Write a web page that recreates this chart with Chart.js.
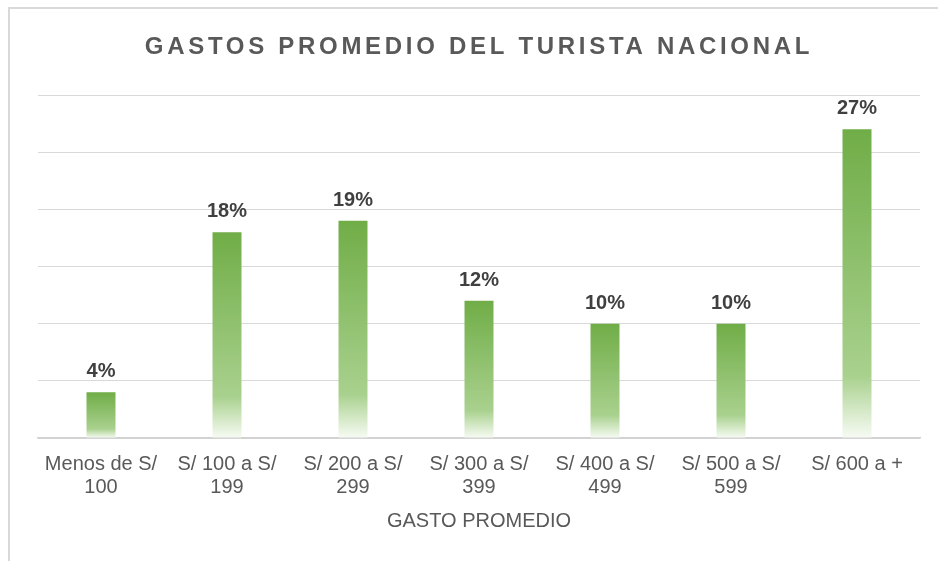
<!DOCTYPE html>
<html lang="es">
<head>
    <meta charset="UTF-8">
    <title>Gastos promedio del turista nacional</title>
    <script src="https://cdn.jsdelivr.net/npm/chart.js"></script>
    <style>
        body {
            margin: 0;
            padding: 0;
            background-color: #ffffff;
        }
        .chart-container {
            position: relative;
            width: 938px;
            height: 561px;
        }
    </style>
</head>
<body>
    <div class="chart-container">
        <canvas id="gastosChart"></canvas>
    </div>
<script>
    // Dati del grafico
    const titulo = "GASTOS PROMEDIO DEL TURISTA NACIONAL";
    const categorias = [
        ["Menos de S/", "100"],
        ["S/ 100 a S/", "199"],
        ["S/ 200 a S/", "299"],
        ["S/ 300 a S/", "399"],
        ["S/ 400 a S/", "499"],
        ["S/ 500 a S/", "599"],
        "S/ 600 a +"
    ];
    const porcentajes = [4, 18, 19, 12, 10, 10, 27];
    const tituloEjeX = "GASTO PROMEDIO";

    // Sfumatura verde -> bianco per ogni barra
    function gradienteBarra(context) {
        const chart = context.chart;
        if (!chart.chartArea) return "#70AD47";
        const y = chart.scales.y;
        const v = context.raw;
        const top = y.getPixelForValue(v);
        const bottom = y.getPixelForValue(0);
        if (!isFinite(top) || bottom - top < 1) return "#70AD47";
        const g = chart.ctx.createLinearGradient(0, top, 0, bottom);
        g.addColorStop(0, "#70AD47");
        g.addColorStop(0.8, "#A9D18E");
        g.addColorStop(1, "#F7FBF4");
        return g;
    }

    // Cornice, titolo con spaziatura ed etichette dei valori
    const decoraciones = {
        id: "decoraciones",
        beforeDraw(chart) {
            const ctx = chart.ctx;
            ctx.save();
            ctx.strokeStyle = "#d9d9d9";
            ctx.lineWidth = 2;
            ctx.beginPath();
            ctx.moveTo(9, 561);
            ctx.lineTo(9, 8);
            ctx.lineTo(938, 8);
            ctx.stroke();

            ctx.fillStyle = "#595959";
            ctx.font = "bold 24px 'Liberation Sans', Arial, sans-serif";
            ctx.letterSpacing = "3.7px";
            ctx.textAlign = "center";
            ctx.textBaseline = "alphabetic";
            ctx.fillText(titulo, 479, 54);
            ctx.restore();
        },
        afterDatasetsDraw(chart) {
            const ctx = chart.ctx;
            const meta = chart.getDatasetMeta(0);
            ctx.save();
            ctx.fillStyle = "#404040";
            ctx.font = "bold 20px 'Liberation Sans', Arial, sans-serif";
            ctx.textAlign = "center";
            ctx.textBaseline = "alphabetic";
            meta.data.forEach((bar, i) => {
                ctx.fillText(porcentajes[i] + "%", bar.x, bar.y - 15);
            });
            ctx.restore();
        }
    };

    new Chart(document.getElementById("gastosChart"), {
        type: "bar",
        data: {
            labels: categorias,
            datasets: [{
                data: porcentajes,
                backgroundColor: gradienteBarra,
                borderWidth: 0,
                barPercentage: 0.23,
                categoryPercentage: 1
            }]
        },
        options: {
            responsive: true,
            maintainAspectRatio: false,
            animation: false,
            layout: {
                padding: { top: 95, left: 38, right: 18, bottom: 28 }
            },
            plugins: {
                legend: { display: false },
                title: { display: false },
                tooltip: { enabled: false }
            },
            scales: {
                x: {
                    grid: { display: false },
                    border: { color: "#d0d0d0", width: 1.5 },
                    ticks: {
                        color: "#595959",
                        font: { family: "'Liberation Sans', Arial, sans-serif", size: 20, lineHeight: 1.15 },
                        padding: 7,
                        maxRotation: 0,
                        autoSkip: false
                    },
                    title: {
                        display: true,
                        text: tituloEjeX,
                        color: "#595959",
                        font: { family: "'Liberation Sans', Arial, sans-serif", size: 20 },
                        padding: { top: 3, bottom: 0 }
                    }
                },
                y: {
                    min: 0,
                    max: 30,
                    ticks: { display: false, stepSize: 5 },
                    border: { display: false },
                    grid: { color: "#d9d9d9", lineWidth: 1, drawTicks: false }
                }
            }
        },
        plugins: [decoraciones]
    });
</script>
</body>
</html>
